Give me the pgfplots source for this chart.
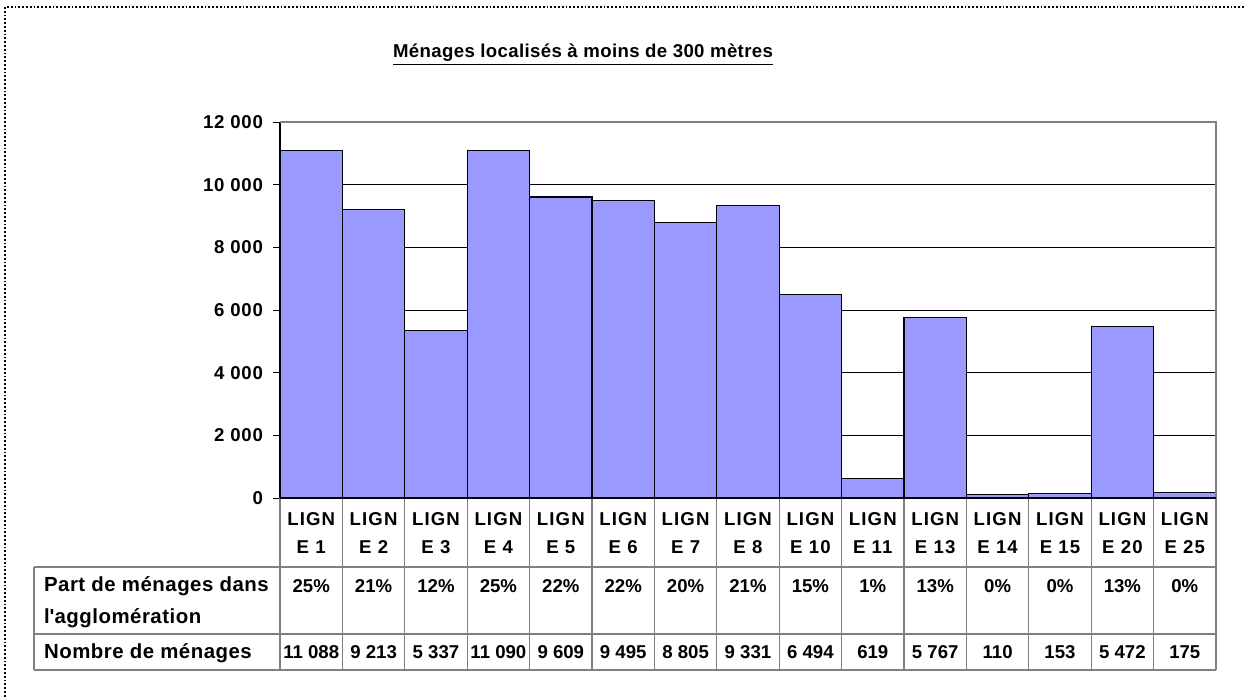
\documentclass[border=0pt]{standalone}
\usepackage{pgfplots}
\pgfplotsset{compat=1.18}
\usepackage{fontspec}
\setmainfont{Liberation Sans}
\definecolor{barfill}{HTML}{9999FF}
\definecolor{frame}{HTML}{808080}
\newcommand{\tf}{\fontsize{9.3}{11}\selectfont\bfseries}
\newcommand{\rf}{\fontsize{10.2}{12}\selectfont\bfseries\addfontfeature{LetterSpace=2.5}}
\begin{document}
\begin{tikzpicture}[x=1pt,y=1pt]
\useasboundingbox (0,0) rectangle (622,349);
\fill[white] (0,0) rectangle (622,349);
\draw[densely dotted, line width=0.9pt] (2.5,-5) -- (2.5,345.5) -- (630,345.5);
\node[font=\tf\addfontfeature{LetterSpace=2}] at (291.5,321.5) {\underline{Ménages localisés à moins de 300 mètres}};
\begin{axis}[
  at={(140pt,100pt)}, anchor=south west,
  scale only axis, width=468pt, height=188pt,
  xmin=-0.5, xmax=14.5, ymin=0, ymax=12000,
  ybar, bar width=1,
  axis x line*=bottom, axis y line*=left,
  axis line style={-, black, line width=0.6pt},
  xtick={0,...,14},
  xticklabels={LIGN\\E 1,LIGN\\E 2,LIGN\\E 3,LIGN\\E 4,LIGN\\E 5,LIGN\\E 6,LIGN\\E 7,LIGN\\E 8,LIGN\\E 10,LIGN\\E 11,LIGN\\E 13,LIGN\\E 14,LIGN\\E 15,LIGN\\E 20,LIGN\\E 25},
  xtick style={draw=none},
  xticklabel style={align=center, font=\fontsize{9.3}{14}\selectfont\bfseries\addfontfeature{LetterSpace=6}, yshift=0pt},
  scaled y ticks=false,
  ytick={0,2000,...,12000},
  yticklabels={0,2 000,4 000,6 000,8 000,10 000,12 000},
  yticklabel style={font=\tf\addfontfeature{LetterSpace=4}, xshift=-1.5pt},
  tick align=outside, major tick length=3.5pt,
  ytick style={black, line width=0.5pt},
  ymajorgrids, grid style={black, line width=0.5pt},
  clip=false,
]
\addplot[fill=barfill, draw=black, line width=0.6pt] coordinates {
(0,11088) (1,9213) (2,5337) (3,11090) (4,9609) (5,9495) (6,8805) (7,9331)
(8,6494) (9,619) (10,5767) (11,110) (12,153) (13,5472) (14,175)};
\draw[frame, line width=1pt] (rel axis cs:0,1) -- (rel axis cs:1,1) -- (rel axis cs:1,0);
\end{axis}
% data table
\foreach \k in {0,...,15} {\draw[frame, line width=0.6pt] ({140+\k*31.2},100) -- ({140+\k*31.2},14);}
\draw[frame, line width=0.6pt] (17,65.5) -- (608,65.5);
\draw[frame, line width=0.6pt] (17,32) -- (608,32);
\draw[frame, line width=0.6pt] (17,14) -- (608,14);
\draw[frame, line width=0.6pt] (17,65.5) -- (17,14);
\draw[black, line width=1pt] (140,100) -- (608,100);
\node[font=\rf, anchor=west] at (18.5,56) {Part de ménages dans};
\node[font=\rf, anchor=west] at (18.5,40) {l\textquotesingle agglomération};
\node[font=\rf, anchor=west] at (18.5,22.5) {Nombre de ménages};
\foreach \i/\p/\n in {0/25\%/11 088,1/21\%/9 213,2/12\%/5 337,3/25\%/11 090,4/22\%/9 609,5/22\%/9 495,6/20\%/8 805,7/21\%/9 331,8/15\%/6 494,9/1\%/619,10/13\%/5 767,11/0\%/110,12/0\%/153,13/13\%/5 472,14/0\%/175} {
  \node[font=\tf] at ({140+(\i+0.5)*31.2},56) {\p};
  \node[font=\tf] at ({140+(\i+0.5)*31.2},23) {\n};
}
\end{tikzpicture}
\end{document}
